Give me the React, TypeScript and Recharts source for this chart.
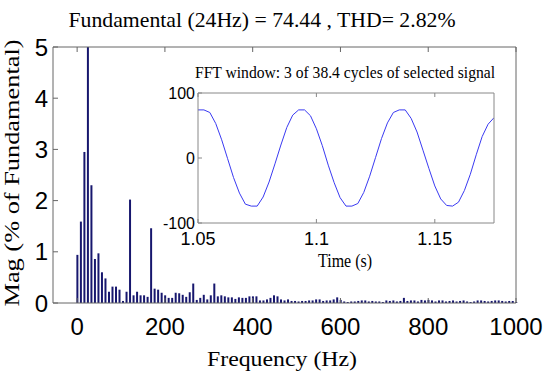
import React from 'react'
import { BarChart, Bar, XAxis, YAxis, LineChart, Line } from 'recharts'

// FFT bins are 8 Hz apart (3 cycles of 24 Hz)
const binHz = 8
const magnitude = [
  0.94, 1.59, 2.95, 100, 2.3, 0.86, 0.97, 0.6, 0.48, 0.22,
  0.32, 0.32, 0.26, 0.04, 0.22, 2.02, 0.15, 0.22, 0.15, 0.15,
  0.12, 1.46, 0.28, 0.26, 0.2, 0.15, 0.1, 0.1, 0.2, 0.19,
  0.16, 0.12, 0.21, 0.38, 0.06, 0.1, 0.16, 0.07, 0.15, 0.38,
  0.13, 0.15, 0.13, 0.11, 0.11, 0.08, 0.11, 0.1, 0.1, 0.13,
  0.13, 0.13, 0.05, 0.05, 0.07, 0.1, 0.15, 0.13, 0.07, 0.05,
  0.07, 0.04, 0.04, 0.03, 0.04, 0.04, 0.05, 0.05, 0.07, 0.07,
  0.04, 0.05, 0.05, 0.07, 0.11, 0.06, 0.03, 0.02, 0.03, 0.03,
  0.04, 0.05, 0.05, 0.03, 0.04, 0.03, 0.03, 0.02, 0.05, 0.04,
  0.05, 0.03, 0.04, 0.1, 0.04, 0.05, 0.05, 0.03, 0.06, 0.05,
  0.06, 0.05, 0.03, 0.05, 0.05, 0.03, 0.04, 0.05, 0.03, 0.04,
  0.05, 0.03, 0.02, 0.03, 0.05, 0.05, 0.04, 0.03, 0.04, 0.05,
  0.05, 0.04, 0.03, 0.04, 0.04, 0.02,
]
const freqTicks = [0, 200, 400, 600, 800, 1000]
const magTicks = [0, 1, 2, 3, 4, 5]

// time signal, sampled every 2.5 ms from 1.05 s
const t0 = 1.05
const dt = 0.0025
const signal = [
  74, 74, 70, 53, 28, -1, -30, -54, -71, -74,
  -74, -60, -37, -9, 20, 47, 66, 74, 74, 65,
  45, 19, -11, -38, -61, -74, -74, -70, -53, -28,
  1, 30, 54, 70, 74, 74, 61, 40, 12, -16,
  -43, -63, -73, -74, -68, -50, -25, 5, 33, 52,
  62,
]
const timeTicks = [1.05, 1.1, 1.15]
const signalTicks = [-100, 0, 100]

const spectrum = magnitude.map((v, i) => ({ f: i * binHz, mag: v }))
const wave = signal.map((v, i) => ({ t: +(t0 + i * dt).toFixed(4), v }))

const sans = "'Liberation Sans', Arial, sans-serif"
const serif = "'Liberation Serif', 'Times New Roman', serif"
const frame = '#666'
const blank = () => ''

export default function App() {
  const layer: React.CSSProperties = { position: 'absolute', left: 0, top: 0 }
  return (
    <div style={{ position: 'absolute', left: 0, top: 0, width: 550, height: 377, background: '#fff' }}>
      <div style={layer}>
        <BarChart width={550} height={377} data={spectrum} margin={{ top: 46, right: 33, bottom: 44, left: 0 }}>
          <XAxis xAxisId="b" dataKey="f" type="number" domain={[-55, 1000]} ticks={freqTicks} interval={0}
            height={30} tickSize={-5} tickMargin={20} stroke={frame}
            tick={{ fill: '#000', fontSize: 24, fontFamily: sans }} />
          <XAxis xAxisId="t" orientation="top" dataKey="f" type="number" domain={[-55, 1000]} ticks={freqTicks}
            interval={0} height={1} tickSize={-5} tickFormatter={blank} stroke={frame} />
          <YAxis yAxisId="l" domain={[0, 5]} ticks={magTicks} interval={0} allowDataOverflow width={53}
            tickSize={-5} tickMargin={10} stroke={frame}
            tick={{ fill: '#000', fontSize: 24, fontFamily: sans }} />
          <YAxis yAxisId="r" orientation="right" domain={[0, 5]} ticks={magTicks} interval={0} width={1}
            tickSize={-5} tickFormatter={blank} stroke={frame} />
          <Bar xAxisId="b" yAxisId="l" dataKey="mag" fill="#17176e" barSize={2} isAnimationActive={false} />
        </BarChart>
      </div>
      <div style={layer}>
        <LineChart width={550} height={377} data={wave} margin={{ top: 92, right: 55, bottom: 124, left: 150 }}>
          <XAxis xAxisId="b" dataKey="t" type="number" domain={[1.05, 1.175]} ticks={timeTicks} interval={0}
            allowDataOverflow height={30} tickSize={-4} tickMargin={13} stroke="#888"
            tick={{ fill: '#000', fontSize: 18, fontFamily: sans }} />
          <XAxis xAxisId="t" orientation="top" dataKey="t" type="number" domain={[1.05, 1.175]} ticks={timeTicks}
            interval={0} height={1} tickSize={-4} tickFormatter={blank} stroke="#888" />
          <YAxis yAxisId="l" domain={[-100, 100]} ticks={signalTicks} interval={0} width={48}
            tickSize={-4} tickMargin={7} stroke="#888"
            tick={{ fill: '#000', fontSize: 16, fontFamily: sans }} />
          <YAxis yAxisId="r" orientation="right" domain={[-100, 100]} ticks={signalTicks} interval={0} width={1}
            tickSize={-4} tickFormatter={blank} stroke="#888" />
          <Line xAxisId="b" yAxisId="l" dataKey="v" type="linear" stroke="#3a3af2" strokeWidth={1}
            dot={false} isAnimationActive={false} />
        </LineChart>
      </div>
      <svg width={550} height={377} style={{ ...layer, pointerEvents: 'none' }}>
        <text x={262} y={27} textAnchor="middle" fontFamily={serif} fontSize={22}
          textLength={387} lengthAdjust="spacingAndGlyphs">Fundamental (24Hz) = 74.44 , THD= 2.82%</text>
        <text x={282} y={366} textAnchor="middle" fontFamily={serif} fontSize={22}
          textLength={150} lengthAdjust="spacingAndGlyphs">Frequency (Hz)</text>
        <text x={19} y={173} textAnchor="middle" fontFamily={serif} fontSize={22} transform="rotate(-90 19 173)"
          textLength={267} lengthAdjust="spacingAndGlyphs">Mag (% of Fundamental)</text>
        <text x={345} y={78} textAnchor="middle" fontFamily={serif} fontSize={16}
          textLength={300} lengthAdjust="spacingAndGlyphs">FFT window: 3 of 38.4 cycles of selected signal</text>
        <text x={345} y={267} textAnchor="middle" fontFamily={serif} fontSize={18}
          textLength={54} lengthAdjust="spacingAndGlyphs">Time (s)</text>
      </svg>
    </div>
  )
}
